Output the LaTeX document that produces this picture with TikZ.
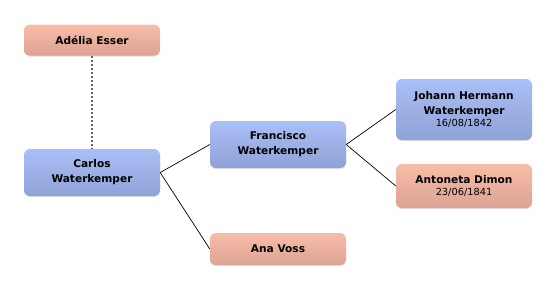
\documentclass[tikz,border=0pt]{standalone}
\usepackage{fontspec}
\setmainfont{DejaVu Sans}
\usetikzlibrary{shadows}
\definecolor{bluetop}{HTML}{AABFF7}
\definecolor{bluebot}{HTML}{8FA2D6}
\definecolor{pinktop}{HTML}{F8BDA8}
\definecolor{pinkbot}{HTML}{DCA394}
\newcommand{\dmy}[1]{{\fontsize{9.8}{12}\selectfont\mdseries #1}}
\tikzset{
  person/.style={rounded corners=6pt, minimum width=136pt, inner sep=0pt, align=center,
    font=\fontsize{10.6}{15}\selectfont\bfseries,
    drop shadow={shadow xshift=0pt, shadow yshift=-1pt, fill=black, opacity=0.12}},
  male/.style={person, top color=bluetop, bottom color=bluebot},
  female/.style={person, top color=pinktop, bottom color=pinkbot},
  link/.style={draw=black, line width=0.7pt},
  spouse/.style={draw=black!60, line width=1.2pt, dash pattern=on 2pt off 2pt}
}
\begin{document}
\begin{tikzpicture}[x=1pt,y=-1pt]
\useasboundingbox (0,0) rectangle (556,290);
\node[female, minimum height=31pt] (adelia) at (92,40) {Adélia Esser};
\node[male, minimum height=47pt] (carlos) at (92,172.5) {Carlos\\Waterkemper};
\node[male, minimum height=47pt] (francisco) at (278,144.5) {Francisco\\Waterkemper};
\node[female, minimum height=32pt] (ana) at (278,249) {Ana Voss};
\node[male, minimum height=61pt] (johann) at (464,109.5) {Johann Hermann\\Waterkemper\\[-3pt]\dmy{16/08/1842}};
\node[female, minimum height=44pt] (antoneta) at (464,186) {Antoneta Dimon\\[-3pt]\dmy{23/06/1841}};
\draw[spouse] (adelia.south) -- (carlos.north);
\draw[link] (carlos.east) -- (francisco.west);
\draw[link] (carlos.east) -- (ana.west);
\draw[link] (francisco.east) -- (johann.west);
\draw[link] (francisco.east) -- (antoneta.west);
\end{tikzpicture}
\end{document}
